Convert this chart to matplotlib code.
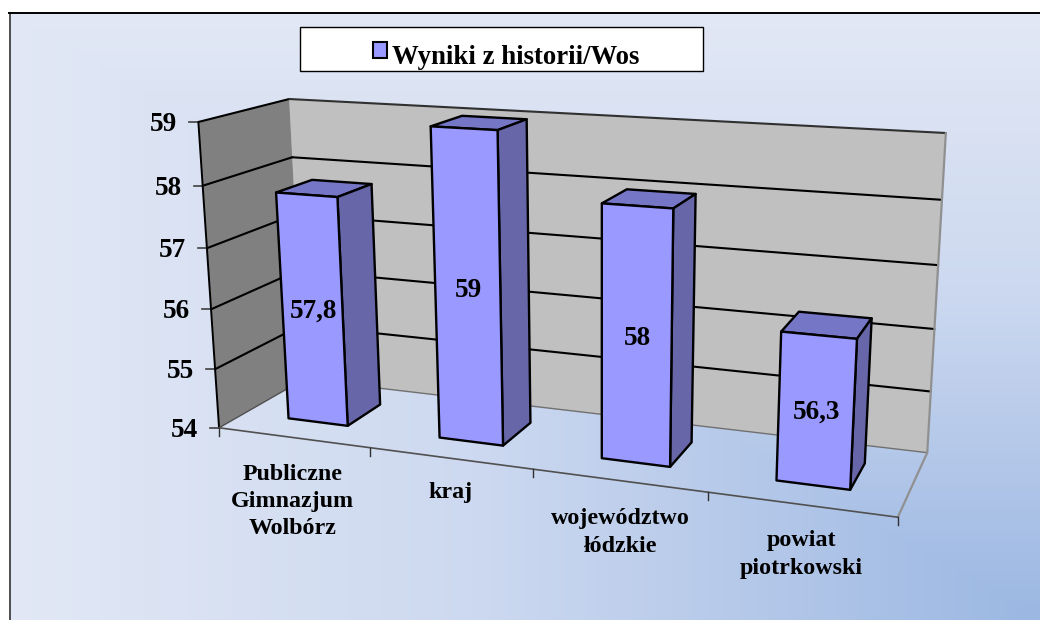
import numpy as np
import matplotlib
matplotlib.use('Agg')
import matplotlib.pyplot as plt
from matplotlib.patches import Polygon, Rectangle

# data
categories = ['Publiczne\nGimnazjum\nWolbórz', 'kraj', 'województwo\nłódzkie', 'powiat\npiotrkowski']
values = [57.8, 59, 58, 56.3]
value_labels = ['57,8', '59', '58', '56,3']
y_ticks = [54, 55, 56, 57, 58, 59]
legend_label = 'Wyniki z historii/Wos'

ymin, ymax = 54, 59
ncat = len(categories)
bar_w = 0.40
z0, z1 = 0.29, 0.71
label_dx = [-1, 0, 2, 0]
label_dy = [2, 0, 4, 2]

FRONT = '#9999FF'
TOP = '#7676C6'
SIDE = '#6666A8'

plt.rcParams['font.family'] = ['Liberation Serif', 'DejaVu Serif']
plt.rcParams['font.weight'] = 'bold'

fig = plt.figure(figsize=(10.4, 6.2), dpi=100, facecolor='white')
ax = fig.add_axes([0, 0, 1, 1])
ax.set_xlim(0, 1040)
ax.set_ylim(620, 0)
ax.axis('off')

# background gradient, runs out of the bottom right corner
xx, yy = np.meshgrid(np.linspace(0, 1, 520), np.linspace(0, 1, 310))
t = np.minimum(xx, yy)
stops = np.array([[226, 232, 245], [205, 217, 240], [155, 183, 226]]) / 255
img = np.dstack([np.interp(t, [0, 0.45, 1], stops[:, i]) for i in range(3)])
ax.imshow(img, extent=(10, 1040, 620, 13), aspect='auto', zorder=0)
ax.set_xlim(0, 1040)
ax.set_ylim(620, 0)
ax.plot([10, 10], [13, 620], color='#404040', lw=1.3, zorder=1)
ax.plot([9, 1040], [13, 13], color='black', lw=1.4, zorder=1)

# camera fitted on the box corners: (category, value above min, depth) -> pixel
world = [(0, 5, 0), (0, 0, 0), (0, 5, 1), (0, 0, 1), (4, 5, 1), (4, 0, 1), (4, 0, 0), (1, 0, 0), (2, 0, 0), (3, 0, 0)]
pixel = [(199.5, 122), (218, 428), (288, 99), (305, 379), (946, 133), (927, 453), (898, 517), (370, 448), (533, 469), (708, 492)]
rows = []
for (a, b, c), (u, v) in zip(world, pixel):
    rows.append([a, b, c, 1, 0, 0, 0, 0, -u * a, -u * b, -u * c, -u])
    rows.append([0, 0, 0, 0, a, b, c, 1, -v * a, -v * b, -v * c, -v])
P = np.linalg.svd(np.array(rows, dtype=float))[2][-1].reshape(3, 4)


def proj(cat, val, z):
    p = P @ np.array([cat, val - ymin, z, 1.0])
    return p[0] / p[2], p[1] / p[2]


def face(pts, color, zorder, ec='none', lw=0):
    ax.add_patch(Polygon([proj(*p) for p in pts], closed=True, fc=color, ec=ec, lw=lw, zorder=zorder, joinstyle='round'))


def line(a, b, color='black', lw=1.5, zorder=4):
    pa, pb = proj(*a), proj(*b)
    ax.plot([pa[0], pb[0]], [pa[1], pb[1]], color=color, lw=lw, zorder=zorder, solid_capstyle='round')


# walls
face([(0, ymin, 1), (ncat, ymin, 1), (ncat, ymax, 1), (0, ymax, 1)], '#C0C0C0', 2)
face([(0, ymin, 0), (0, ymin, 1), (0, ymax, 1), (0, ymax, 0)], '#808080', 3)

# gridlines and value axis
for v in y_ticks:
    if v > ymin:
        line((0, v, 0), (0, v, 1))
        line((0, v, 1), (ncat, v, 1), color='#303030' if v == ymax else 'black')
    x, y = proj(0, v, 0)
    ax.plot([x - 9, x], [y, y], color='#404040', lw=1.2, zorder=4)
    ax.text(x - 21, y + 2.5, str(v), ha='right', va='center', fontsize=19.5, color='black', zorder=8)
line((0, ymin, 0), (0, ymax, 0), lw=1.4)
line((0, ymin, 1), (ncat, ymin, 1), color='#707070', lw=1.0)
line((0, ymin, 0), (0, ymin, 1), color='#505050', lw=1.0)
line((ncat, ymin, 1), (ncat, ymax, 1), color='#909090', lw=1.6)
line((ncat, ymin, 0), (ncat, ymin, 1), color='#909090', lw=1.6)
line((0, ymin, 0), (ncat, ymin, 0), color='#505050', lw=1.2)

# category axis ticks and labels
for i in range(ncat + 1):
    x, y = proj(i, ymin, 0)
    ax.plot([x, x], [y, y + 8], color='#303030', lw=1.0, zorder=4)
for i, name in enumerate(categories):
    x, y = proj(i + 0.5, ymin, 0)
    ax.text(x + label_dx[i], y + 24 + label_dy[i], name, ha='center', va='top', fontsize=17.3, linespacing=1.4, color='black', zorder=8)

# bars
for i, v in enumerate(values):
    a, b = i + 0.5 - bar_w / 2, i + 0.5 + bar_w / 2
    zb = 5 + i
    face([(a, v, z0), (b, v, z0), (b, v, z1), (a, v, z1)], TOP, zb, ec='black', lw=1.7)
    face([(b, ymin, z0), (b, ymin, z1), (b, v, z1), (b, v, z0)], SIDE, zb, ec='black', lw=1.7)
    face([(a, ymin, z0), (b, ymin, z0), (b, v, z0), (a, v, z0)], FRONT, zb, ec='black', lw=1.7)
    x, y = proj(i + 0.5, (v + ymin) / 2, z0)
    ax.text(x + 1, y + 1, value_labels[i], ha='center', va='center', fontsize=19.5, color='black', zorder=9)

# legend box
ax.add_patch(Rectangle((300, 27), 403, 44, fc='white', ec='black', lw=1.0, zorder=8))
ax.add_patch(Rectangle((372.5, 42), 14, 16, fc=FRONT, ec='black', lw=1.5, zorder=9))
ax.text(392, 57, legend_label, ha='left', va='center', fontsize=19.3, color='black', zorder=9)

fig.savefig('out.png', dpi=100)
